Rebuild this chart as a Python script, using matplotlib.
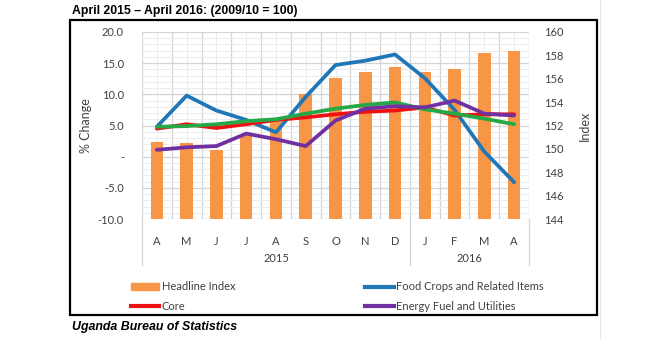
import matplotlib
matplotlib.use("Agg")
import matplotlib.pyplot as plt
import matplotlib.patches as mpatches
from matplotlib.lines import Line2D
import numpy as np

# ---------------- date ----------------
luni = ["A", "M", "J", "J", "A", "S", "O", "N", "D", "J", "F", "M", "A"]
ani = ["2015", "2016"]
luni_pe_an = [9, 4]

# indice headline (2009/10 = 100), axa din dreapta
headline_index = [150.6, 150.5, 149.9, 151.3, 152.5, 154.7, 156.1, 156.6, 157.0, 156.6, 156.8, 158.2, 158.4]

# variatii anuale (%), axa din stanga
food_crops = [4.8, 9.8, 7.4, 5.9, 3.9, 9.6, 14.7, 15.4, 16.4, 12.6, 7.5, 0.8, -4.1]
core = [4.5, 5.2, 4.6, 5.2, 5.9, 6.3, 6.8, 7.2, 7.4, 7.9, 6.6, 6.8, 6.8]
headline_pct = [4.8, 4.9, 5.2, 5.7, 6.0, 6.9, 7.7, 8.3, 8.7, 7.6, 6.9, 6.1, 5.2]
energy_fuel = [1.1, 1.5, 1.7, 3.7, 2.8, 1.7, 5.8, 7.7, 8.1, 7.9, 9.0, 6.9, 6.6]

stanga_ticks = [-10, -5, 0, 5, 10, 15, 20]
stanga_labels = ["-10.0", "-5.0", "-", "5.0", "10.0", "15.0", "20.0"]
dreapta_ticks = list(range(144, 161, 2))

C_ORANGE = "#f79646"
C_BLUE = "#1f77b8"
C_RED = "#ee1111"
C_GREEN = "#25a846"
C_PURPLE = "#7030a0"
C_TXT = "#404040"
FONT = ["Lato", "DejaVu Sans"]
NARROW = ["Liberation Sans", "DejaVu Sans"]

W, H = 660, 339
fig = plt.figure(figsize=(W / 100, H / 100), dpi=100)

# zona graficului (pixeli)
x0, x1, y0, y1 = 142, 529, 32, 219
rect = [x0 / W, 1 - y1 / H, (x1 - x0) / W, (y1 - y0) / H]
x = np.arange(len(luni))

# ---------------- grila (dedesubt) ----------------
gax = fig.add_axes(rect, zorder=0)
gax.set_xlim(-0.5, len(luni) - 0.5)
gax.set_ylim(-10, 20)
gax.set_xticks(np.arange(-0.5, len(luni), 1))
gax.set_xticks(x, minor=True)
gax.set_yticks(stanga_ticks)
gax.set_yticks(np.arange(-10, 20, 1), minor=True)
gax.grid(which="major", color="#d4d4d4", linewidth=0.9)
gax.grid(which="minor", color="#ececec", linewidth=0.7)
gax.tick_params(which="both", length=0, labelleft=False, labelbottom=False)
for s in gax.spines.values():
    s.set_visible(False)

# ---------------- bare: indice ----------------
axr = fig.add_axes(rect, zorder=1)
axr.patch.set_visible(False)
axr.bar(x, headline_index, width=0.42, color=C_ORANGE, bottom=0)
axr.set_ylim(144, 160)
axr.set_xlim(-0.5, len(luni) - 0.5)
axr.set_yticks(dreapta_ticks)
axr.yaxis.tick_right()
axr.yaxis.set_label_position("right")
axr.tick_params(axis="y", length=0, pad=11, labelsize=8, labelcolor=C_TXT)
for lab in axr.get_yticklabels():
    lab.set_family(FONT)
axr.set_ylabel("Index", fontsize=9, color=C_TXT, family=FONT)
axr.yaxis.set_label_coords(1.129, 0.5)
axr.set_xticks(x)
axr.set_xticklabels(luni, family=FONT, fontsize=8, color=C_TXT)
axr.tick_params(axis="x", length=0, pad=12)
for s in axr.spines.values():
    s.set_visible(False)

# ---------------- linii: variatii % ----------------
axl = fig.add_axes(rect, zorder=2)
axl.patch.set_visible(False)
lw = 2.7
axl.plot(x, food_crops, color=C_BLUE, lw=lw, solid_capstyle="round")
axl.plot(x, core, color=C_RED, lw=lw, solid_capstyle="round")
axl.plot(x, headline_pct, color=C_GREEN, lw=lw, solid_capstyle="round")
axl.plot(x, energy_fuel, color=C_PURPLE, lw=lw, solid_capstyle="round")
axl.set_xlim(-0.5, len(luni) - 0.5)
axl.set_ylim(-10, 20)
axl.set_yticks(stanga_ticks)
axl.set_yticklabels(stanga_labels, family=FONT, fontsize=8, color=C_TXT)
axl.tick_params(axis="y", length=0, pad=13)
axl.set_ylabel("% Change", fontsize=9, color=C_TXT, family=FONT)
axl.yaxis.set_label_coords(-0.129, 0.5)
axl.set_xticks([])
for s in axl.spines.values():
    s.set_visible(False)

# ani sub luni + separatoare
trans = axr.get_xaxis_transform()
start = -0.5
for an, n in zip(ani, luni_pe_an):
    axr.text(start + n / 2, -0.21, an, transform=trans, ha="center", va="center",
             fontsize=8, color=C_TXT, family=FONT)
    start += n
for xs in np.concatenate([[-0.5], np.cumsum(luni_pe_an) - 0.5]):
    axr.add_line(Line2D([xs, xs], [0, -0.245], transform=trans, color="#d4d4d4",
                        lw=0.9, clip_on=False))

# ---------------- legenda ----------------
handles = [
    mpatches.Patch(color=C_ORANGE),
    Line2D([], [], color=C_RED, lw=3),
    Line2D([], [], color=C_BLUE, lw=3),
    Line2D([], [], color=C_PURPLE, lw=3),
]
labels = ["Headline Index", "Core", "Food Crops and Related Items", "Energy Fuel and Utilities"]
fig.legend(handles, labels, ncol=2, loc="center left",
           bbox_to_anchor=(125 / W, 1 - 296.5 / H), frameon=False,
           prop={"family": FONT, "size": 8}, labelcolor=C_TXT,
           handlelength=2.6, handleheight=0.6, handletextpad=0.2,
           columnspacing=11.7, labelspacing=0.75, borderpad=0)

# ---------------- chenar + titluri ----------------
fig.add_artist(mpatches.Rectangle((70 / W, 1 - 315 / H), (597 - 70) / W, (315 - 20) / H,
                                  transform=fig.transFigure, fill=False,
                                  edgecolor="black", lw=1.6))
fig.add_artist(Line2D([600 / W, 600 / W], [0, 1], transform=fig.transFigure,
                      color="#e4e4e4", lw=0.8))
fig.text(72 / W, 1 - 11 / H, "April 2015 \u2013 April 2016: (2009/10 = 100)",
         ha="left", va="center", fontsize=8.8, fontweight="bold", family=NARROW)
fig.text(72 / W, 1 - 327 / H, "Uganda Bureau of Statistics",
         ha="left", va="center", fontsize=8.9, fontweight="bold", style="italic",
         family=NARROW)

plt.savefig("out.png", dpi=100)
